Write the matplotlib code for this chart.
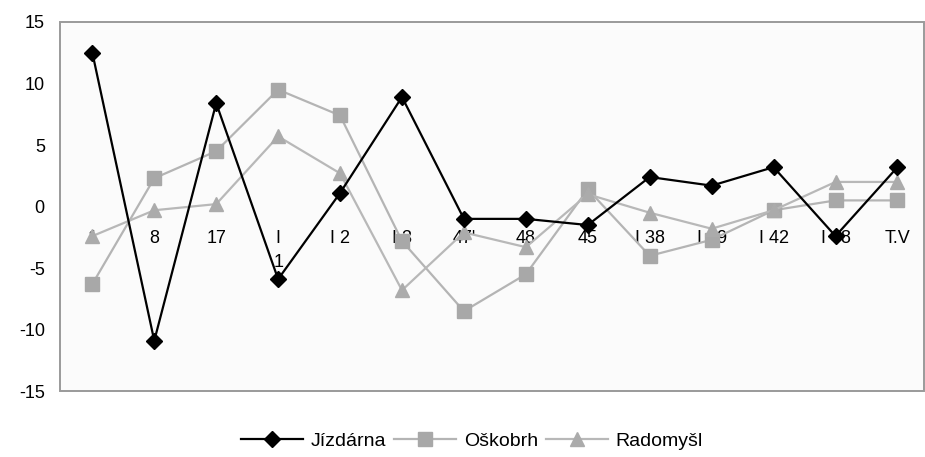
import matplotlib.pyplot as plt
import numpy as np

plt.rcParams['font.family'] = ['Liberation Sans', 'DejaVu Sans']
plt.rcParams['axes.unicode_minus'] = False

# Data
categories = ['1', '8', '17', 'I\n1', 'I 2', 'I 3', "47'", '48', '45',
              'I 38', 'I 39', 'I 42', 'I 48', 'T.V']
jizdarna = [12.5, -10.9, 8.4, -5.9, 1.1, 8.9, -1.0, -1.0, -1.5, 2.4, 1.7, 3.2, -2.4, 3.2]
oskobrh = [-6.3, 2.3, 4.5, 9.5, 7.4, -2.8, -8.5, -5.5, 1.4, -4.0, -2.7, -0.3, 0.5, 0.5]
radomysl = [-2.4, -0.3, 0.2, 5.7, 2.7, -6.8, -2.1, -3.3, 1.0, -0.5, -1.8, -0.3, 2.0, 2.0]

fig = plt.figure(figsize=(9.25, 4.57), dpi=100)
ax = fig.add_axes([0.065, 0.144, 0.934, 0.808])
ax.set_facecolor('#fbfbfb')
# frame drawn by the axes patch, since the bottom spine moves to y=0
ax.patch.set_edgecolor('#9a9a9a')
ax.patch.set_linewidth(1.4)

x = np.arange(len(categories))
ax.plot(x, oskobrh, color='#b4b4b4', marker='s', markersize=9.5, lw=1.6,
        markeredgecolor='#a8a8a8', markerfacecolor='#a8a8a8', label='Oškobrh', zorder=3)
ax.plot(x, radomysl, color='#b8b8b8', marker='^', markersize=10, lw=1.6,
        markeredgecolor='#ababab', markerfacecolor='#ababab', label='Radomyšl', zorder=3)
ax.plot(x, jizdarna, color='black', marker='D', markersize=8, lw=1.6,
        label='Jízdárna', zorder=4)

ax.set_xlim(-0.52, len(categories) - 0.57)
ax.set_ylim(-15, 15)
ax.set_yticks([-15, -10, -5, 0, 5, 10, 15])
ax.tick_params(axis='y', length=0, labelsize=13, pad=11)

# category labels sit next to the zero line, as in the original
ax.spines['bottom'].set_position(('data', 0))
for name in ['bottom', 'top', 'right', 'left']:
    ax.spines[name].set_color('none')
ax.set_xticks(x, categories)
ax.tick_params(axis='x', length=0, labelsize=13, pad=17)
for lab in ax.get_xticklabels():
    lab.set_linespacing(1.5)

handles, labels = ax.get_legend_handles_labels()
order = [2, 0, 1]
fig.legend([handles[i] for i in order], [labels[i] for i in order],
           loc='center', bbox_to_anchor=(0.51, 0.035), ncol=3, frameon=False,
           fontsize=14, handlelength=3.2, columnspacing=0.4, handletextpad=0.4)

fig.savefig('out.png', dpi=100)
